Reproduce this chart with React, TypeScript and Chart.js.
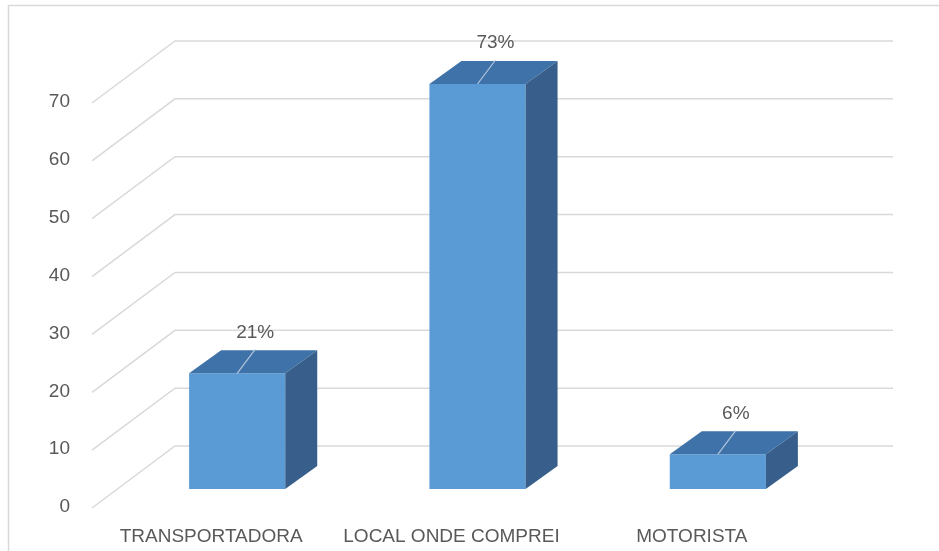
import React, { useEffect, useRef } from "react";
import { Chart, registerables } from "chart.js";

Chart.register(...registerables);

const categories = ["TRANSPORTADORA", "LOCAL ONDE COMPREI", "MOTORISTA"];
const values = [20, 70, 6];
const percentLabels = ["21%", "73%", "6%"];
const yMin = 0;
const yMax = 70;
const yStep = 10;

const FRONT = "#5B9BD5";
const TOP = "#3F72A8";
const SIDE = "#385F8B";
const GRID = "#D9D9D9";
const TEXT = "#595959";
const FONT = "'Liberation Sans', Arial, sans-serif";

// 3D geometry (pixels)
const BAR_DX = 32;
const BAR_DY = -23;
const WALL_DX = 58; // from plot left to back wall
const WALL_DY = -43; // bar front plane to back wall
const FRONT_DX = -25; // side wall front edge
const FRONT_DY = 19;
const WALL_RIGHT = 55;

const threeD = {
  id: "threeD",
  beforeDatasetsDraw(chart: any) {
    const ctx = chart.ctx;
    const y = chart.scales.y;
    const area = chart.chartArea;
    ctx.save();
    // chart border
    ctx.strokeStyle = GRID;
    ctx.lineWidth = 1.5;
    ctx.beginPath();
    ctx.moveTo(8.5, 560);
    ctx.lineTo(8.5, 5.5);
    ctx.lineTo(939, 5.5);
    ctx.stroke();
    // grid: side wall diagonals + back wall
    ctx.lineWidth = 1.5;
    for (const t of y.ticks) {
      const py = y.getPixelForValue(t.value);
      ctx.beginPath();
      ctx.moveTo(area.left + FRONT_DX, py + FRONT_DY);
      ctx.lineTo(area.left + WALL_DX, py + WALL_DY);
      ctx.lineTo(area.right + WALL_RIGHT, py + WALL_DY);
      ctx.stroke();
    }
    ctx.restore();
  },
  afterDatasetsDraw(chart: any) {
    const ctx = chart.ctx;
    const meta = chart.getDatasetMeta(0);
    ctx.save();
    meta.data.forEach((el: any, i: number) => {
      const { x, y, base, width } = el.getProps(["x", "y", "base", "width"], true);
      const L = x - width / 2;
      const R = x + width / 2;
      // top face
      ctx.fillStyle = TOP;
      ctx.beginPath();
      ctx.moveTo(L, y);
      ctx.lineTo(L + BAR_DX, y + BAR_DY);
      ctx.lineTo(R + BAR_DX, y + BAR_DY);
      ctx.lineTo(R, y);
      ctx.closePath();
      ctx.fill();
      // side face
      ctx.fillStyle = SIDE;
      ctx.beginPath();
      ctx.moveTo(R, y);
      ctx.lineTo(R + BAR_DX, y + BAR_DY);
      ctx.lineTo(R + BAR_DX, base + BAR_DY);
      ctx.lineTo(R, base);
      ctx.closePath();
      ctx.fill();
      // leader line
      ctx.strokeStyle = "rgba(190,208,228,0.9)";
      ctx.lineWidth = 1.2;
      ctx.beginPath();
      ctx.moveTo(x + 18, y - 24);
      ctx.lineTo(x, y);
      ctx.stroke();
      // label
      ctx.fillStyle = TEXT;
      ctx.font = `19px ${FONT}`;
      ctx.textAlign = "center";
      ctx.textBaseline = "middle";
      ctx.fillText(percentLabels[i], x + 18, y - 41);
    });
    ctx.restore();
  },
};

export default function App() {
  const ref = useRef<HTMLCanvasElement | null>(null);
  useEffect(() => {
    if (!ref.current) return;
    const chart = new Chart(ref.current, {
      type: "bar",
      data: {
        labels: categories,
        datasets: [
          {
            data: values,
            backgroundColor: FRONT,
            borderWidth: 0,
            categoryPercentage: 1,
            barPercentage: 0.4,
            clip: false as any,
          },
        ],
      },
      options: {
        responsive: false,
        animation: false,
        devicePixelRatio: 1,
        layout: { padding: { top: 84, right: 101, left: 0, bottom: 0 } },
        plugins: {
          legend: { display: false },
          tooltip: { enabled: false },
        },
        scales: {
          x: {
            grid: { display: false },
            border: { display: false },
            ticks: {
              color: TEXT,
              font: { family: FONT, size: 19 },
              padding: 28,
              labelOffset: -26,
              maxRotation: 0,
              autoSkip: false,
            },
            afterFit: (s: any) => {
              s.height = 62;
            },
          },
          y: {
            min: yMin,
            max: yMax,
            grid: { display: false },
            border: { display: false },
            ticks: {
              stepSize: yStep,
              color: TEXT,
              font: { family: FONT, size: 19 },
              padding: 39,
              labelOffset: 18,
            },
            afterFit: (s: any) => {
              s.width = 117;
            },
          },
        },
      },
      plugins: [threeD],
    });
    return () => chart.destroy();
  }, []);
  return (
    <div style={{ position: "fixed", left: 0, top: 0, width: 939, height: 551, background: "#fff" }}>
      <canvas ref={ref} width={939} height={551} style={{ display: "block" }} />
    </div>
  );
}
